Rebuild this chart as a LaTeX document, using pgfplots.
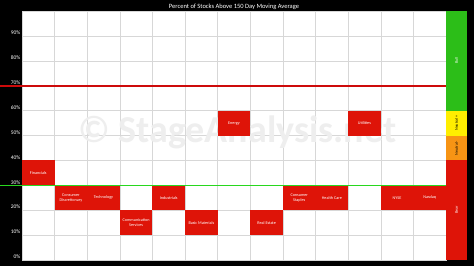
\documentclass[border=0pt]{standalone}
\usepackage{pgfplots}
\pgfplotsset{compat=1.18}
\usepackage{fontspec}
\setmainfont{Carlito}
\definecolor{cellred}{RGB}{222,20,8}
\definecolor{bullgreen}{RGB}{44,190,24}
\definecolor{linegreen}{RGB}{40,215,30}
\definecolor{linered}{RGB}{205,10,10}
\definecolor{nyellow}{RGB}{255,238,0}
\definecolor{norange}{RGB}{247,148,20}
\definecolor{gridgray}{RGB}{215,215,215}
\definecolor{wm}{RGB}{238,238,238}

\begin{document}
\begin{tikzpicture}
\useasboundingbox (0,0) rectangle (474pt,266pt);
\fill[black] (0,0) rectangle (474pt,266pt);
\node[white, font=\fontsize{6.5}{7}\selectfont] at (234pt,259.5pt) {Percent of Stocks Above 150 Day Moving Average};
\begin{axis}[
  at={(22pt,6pt)}, anchor=south west, scale only axis,
  width=424pt, height=249pt,
  xmin=-0.5, xmax=12.5, ymin=0, ymax=100,
  clip=false,
  axis background/.style={fill=white},
  axis line style={draw=gridgray},
  xtick={0.5,1.5,...,11.5}, xticklabels={},
  ytick={0,10,...,90},
  yticklabel={\pgfmathprintnumber{\tick}\%},
  /pgf/number format/assume math mode=true,
  yticklabel style={white, font=\fontsize{5.5}{6}\selectfont, anchor=south east, inner sep=0.5pt, xshift=-1pt, yshift=0.5pt},
  major tick length=0pt,
  grid=major, grid style={gridgray, line width=0.4pt},
  cell/.style={fill=cellred, draw=none, mark=none},
]
\node[wm, anchor=base, font=\bfseries\fontsize{38}{42}\selectfont] at (axis cs:6.1,47.0) {© StageAnalysis.net};
% cells: each spans [value, value+10]
\addplot[cell] coordinates {(-0.5,30) (0.5,30) (0.5,40) (-0.5,40)} -- cycle;   % Financials
\addplot[cell] coordinates {(0.5,20) (1.5,20) (1.5,30) (0.5,30)} -- cycle;    % Consumer Discretionary
\addplot[cell] coordinates {(1.5,20) (2.5,20) (2.5,30) (1.5,30)} -- cycle;    % Technology
\addplot[cell] coordinates {(2.5,10) (3.5,10) (3.5,20) (2.5,20)} -- cycle;    % Communication Services
\addplot[cell] coordinates {(3.5,20) (4.5,20) (4.5,30) (3.5,30)} -- cycle;    % Industrials
\addplot[cell] coordinates {(4.5,10) (5.5,10) (5.5,20) (4.5,20)} -- cycle;    % Basic Materials
\addplot[cell] coordinates {(5.5,50) (6.5,50) (6.5,60) (5.5,60)} -- cycle;    % Energy
\addplot[cell] coordinates {(6.5,10) (7.5,10) (7.5,20) (6.5,20)} -- cycle;    % Real Estate
\addplot[cell] coordinates {(7.5,20) (8.5,20) (8.5,30) (7.5,30)} -- cycle;    % Consumer Staples
\addplot[cell] coordinates {(8.5,20) (9.5,20) (9.5,30) (8.5,30)} -- cycle;    % Health Care
\addplot[cell] coordinates {(9.5,50) (10.5,50) (10.5,60) (9.5,60)} -- cycle;  % Utilities
\addplot[cell] coordinates {(10.5,20) (11.5,20) (11.5,30) (10.5,30)} -- cycle;% NYSE
\addplot[cell] coordinates {(11.5,20) (12.5,20) (12.5,30) (11.5,30)} -- cycle;% Nasdaq

\draw[linered, line width=1.6pt] (axis cs:-1.175,70) -- (axis cs:12.5,70);
\draw[linegreen, line width=1.6pt] (axis cs:-1.175,30) -- (axis cs:12.5,30);

\fill[bullgreen] (axis cs:12.5,60) rectangle (axis cs:13.144,100);
\fill[nyellow] (axis cs:12.5,50) rectangle (axis cs:13.144,60);
\fill[norange] (axis cs:12.5,40) rectangle (axis cs:13.144,50);
\fill[cellred] (axis cs:12.5,0) rectangle (axis cs:13.144,40);

\node[white, rotate=90, font=\fontsize{4}{4.6}\selectfont] at (axis cs:12.822,80) {Bull};
\node[black, rotate=90, font=\fontsize{4}{4.6}\selectfont] at (axis cs:12.822,55) {Neutral +};
\node[black, rotate=90, font=\fontsize{4}{4.6}\selectfont] at (axis cs:12.822,45) {Neutral -};
\node[white, rotate=90, font=\fontsize{4}{4.6}\selectfont] at (axis cs:12.822,20) {Bear};

\node[white, font=\fontsize{4.2}{4.8}\selectfont, align=center] at (axis cs:0,35) {Financials};
\node[white, font=\fontsize{4.2}{4.8}\selectfont, align=center] at (axis cs:1,25) {Consumer\\Discretionary};
\node[white, font=\fontsize{4.2}{4.8}\selectfont, align=center] at (axis cs:2,25) {Technology};
\node[white, font=\fontsize{4.2}{4.8}\selectfont, align=center] at (axis cs:3,15) {Communication\\Services};
\node[white, font=\fontsize{4.2}{4.8}\selectfont, align=center] at (axis cs:4,25) {Industrials};
\node[white, font=\fontsize{4.2}{4.8}\selectfont, align=center] at (axis cs:5,15) {Basic Materials};
\node[white, font=\fontsize{4.2}{4.8}\selectfont, align=center] at (axis cs:6,55) {Energy};
\node[white, font=\fontsize{4.2}{4.8}\selectfont, align=center] at (axis cs:7,15) {Real Estate};
\node[white, font=\fontsize{4.2}{4.8}\selectfont, align=center] at (axis cs:8,25) {Consumer\\Staples};
\node[white, font=\fontsize{4.2}{4.8}\selectfont, align=center] at (axis cs:9,25) {Health Care};
\node[white, font=\fontsize{4.2}{4.8}\selectfont, align=center] at (axis cs:10,55) {Utilities};
\node[white, font=\fontsize{4.2}{4.8}\selectfont, align=center] at (axis cs:11,25) {NYSE};
\node[white, font=\fontsize{4.2}{4.8}\selectfont, align=center] at (axis cs:12,25) {Nasdaq};
\end{axis}
\end{tikzpicture}
\end{document}
